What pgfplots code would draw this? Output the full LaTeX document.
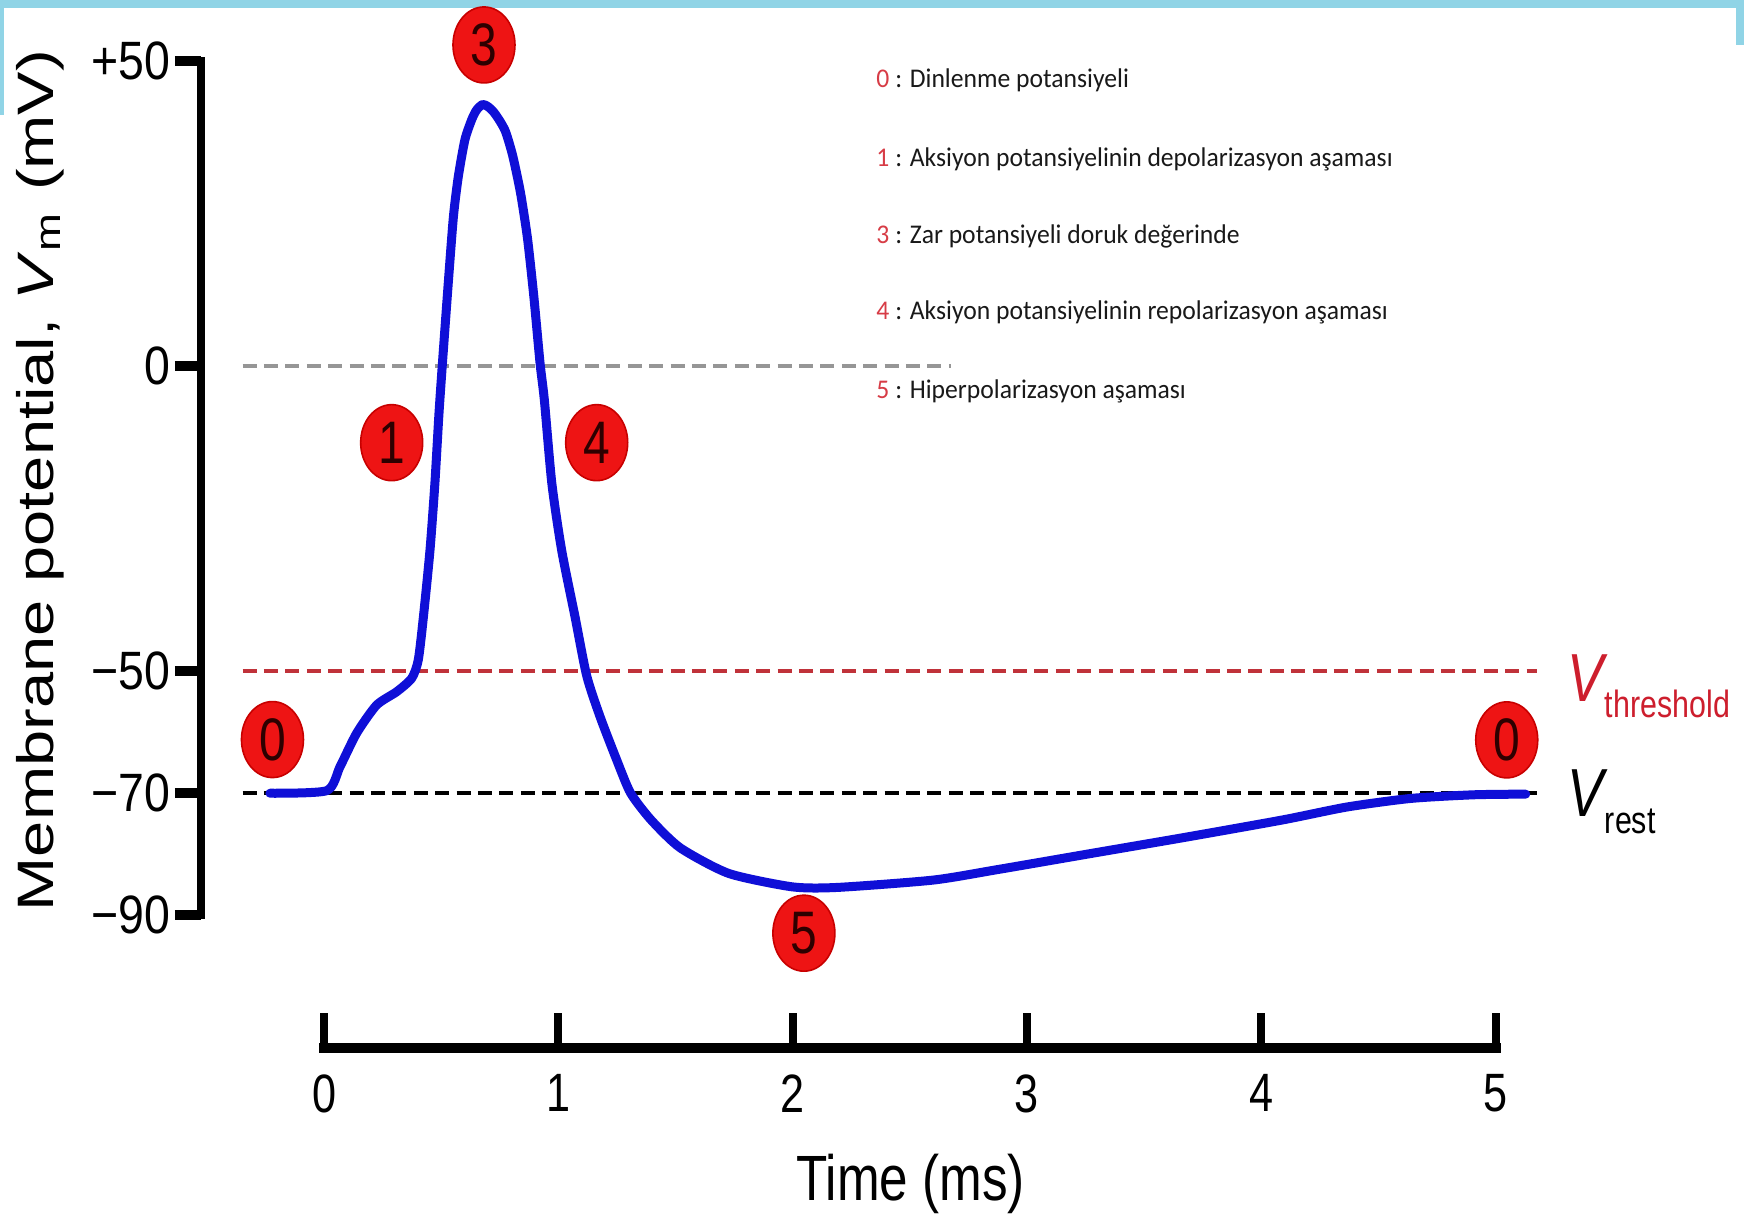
\documentclass[border=0pt]{standalone}
\usepackage{fontspec}
\setmainfont{Liberation Sans}[FakeStretch=0.8]
\newfontfamily\ylabfont{Liberation Sans}[FakeStretch=1.27]
\newfontfamily\tickfont{Liberation Sans}[FakeStretch=0.86]
\newfontfamily\legfont{Carlito}[FakeStretch=0.95]
\usepackage{pgfplots}
\pgfplotsset{compat=1.18}
\usetikzlibrary{shapes.geometric}
\definecolor{curveblue}{RGB}{15,15,215}
\definecolor{zerogray}{RGB}{150,150,150}
\definecolor{thred}{RGB}{192,50,58}
\definecolor{vred}{RGB}{205,30,45}
\definecolor{circred}{RGB}{238,20,20}
\definecolor{circedge}{RGB}{200,0,0}
\definecolor{numdark}{RGB}{45,0,0}
\definecolor{legred}{RGB}{215,60,70}
\definecolor{legtext}{RGB}{25,25,25}
\definecolor{bandcyan}{RGB}{144,212,230}

\pgfplotstableread{
t v
-0.231 -70.05
0.011 -69.63
0.068 -65.7
0.139 -60.2
0.224 -55.6
0.31 -53.4
0.374 -51.2
0.402 -48.2
0.424 -41.1
0.452 -30.2
0.473 -19.2
0.49 -8.0
0.505 0.4
0.530 13.6
0.552 24.5
0.573 31.1
0.601 37.1
0.630 40.4
0.651 42.0
0.677 42.9
0.701 42.5
0.725 41.6
0.750 40.2
0.775 38.4
0.805 34.5
0.838 28.5
0.868 21.0
0.895 11.5
0.922 0.4
0.940 -5.5
0.972 -19.2
1.014 -30.2
1.071 -41.1
1.121 -50.8
1.178 -57.5
1.249 -64.6
1.308 -70.0
1.395 -74.4
1.52 -79.0
1.727 -83.2
1.998 -85.4
2.189 -85.5
2.598 -84.3
2.87 -82.6
3.278 -79.9
3.687 -77.2
4.095 -74.4
4.367 -72.3
4.639 -70.9
4.911 -70.3
5.129 -70.2
}\aptable

\pgfplotstableread{
t v lab
-0.2203 -61.25 0
0.2885 -12.56 1
0.6825 52.66 3
1.1636 -12.56 4
2.048 -93.0 5
5.048 -61.3 0
}\circtable

\begin{document}
\begin{tikzpicture}
\useasboundingbox (0,0) rectangle (872pt,609.5pt);
\fill[white] (0,0) rectangle (872pt,609.5pt);
\fill[bandcyan] (0,605.5pt) rectangle (872pt,609.5pt);
\fill[bandcyan] (0,552pt) rectangle (2pt,609.5pt);
\fill[bandcyan] (868pt,587pt) rectangle (872pt,609.5pt);

\begin{axis}[
  at={(100.5pt,152.05pt)}, anchor=south west,
  x=117.14pt, y=3.049pt,
  xmin=-0.5254, xmax=5.5, ymin=-90, ymax=50,
  axis x line=none, axis y line=left,
  axis line style={line width=4pt, -, line cap=rect},
  ytick={-90,-70,-50,0,50},
  yticklabels={−90,−70,−50,0,+50},
  tick align=outside,
  major tick length=13pt,
  tick style={line width=5pt, black},
  yticklabel style={font=\tickfont\fontsize{27pt}{30pt}\selectfont, anchor=east, inner sep=0pt, xshift=-2pt},
  /pgf/number format/assume math mode=true,
  ylabel={\ylabfont\fontsize{25.6pt}{30pt}\selectfont Membrane potential, \textit{V}\textsubscript{m}\ \kern2pt(mV)},
  ylabel style={at={(axis description cs:-0.10466,0.5086)}, anchor=base, inner sep=0pt},
  clip=false,
]
\addplot[zerogray, line width=2.4pt, dash pattern=on 7pt off 3.7pt] coordinates {(-0.348,0) (2.676,0)};
\addplot[thred, line width=2.4pt, dash pattern=on 7pt off 3.7pt] coordinates {(-0.348,-50) (5.175,-50)};
\addplot[black, line width=2.4pt, dash pattern=on 7pt off 3.7pt] coordinates {(-0.348,-70) (5.175,-70)};
\addplot[curveblue, line width=4.5pt, line join=round, line cap=round, smooth, tension=0.4] table[x=t, y=v] {\aptable};
\addplot[draw=none, mark=none, nodes near coords, point meta=explicit symbolic,
  every node near coord/.style={anchor=center, ellipse, fill=circred, draw=circedge, line width=0.8pt,
    minimum width=31pt, minimum height=38pt, inner sep=0pt, text=numdark,
    font=\fontsize{30pt}{32pt}\selectfont}]
  table[x=t, y=v, meta=lab] {\circtable};

\node[anchor=base west, inner sep=0pt, text=vred] at (axis cs:5.305,-55.08)
  {\fontsize{34pt}{36pt}\selectfont\textit{V}\kern-1.5pt\raisebox{-8pt}{\fontsize{19pt}{22pt}\selectfont threshold}};
\node[anchor=base west, inner sep=0pt, text=black] at (axis cs:5.305,-73.91)
  {\fontsize{34pt}{36pt}\selectfont\textit{V}\kern-1.5pt\raisebox{-8.3pt}{\fontsize{19pt}{22pt}\selectfont rest}};

\begin{scope}[every node/.style={anchor=base west, inner sep=0pt, text=legtext, font=\legfont\fontsize{13.5pt}{16pt}\selectfont}]
\node at (axis cs:2.356,45.65) {\textcolor{legred}{0} : Dinlenme potansiyeli};
\node at (axis cs:2.356,32.7) {\textcolor{legred}{1} : Aksiyon potansiyelinin depolarizasyon aşaması};
\node at (axis cs:2.356,20.14) {\textcolor{legred}{3} : Zar potansiyeli doruk değerinde};
\node at (axis cs:2.356,7.56) {\textcolor{legred}{4} : Aksiyon potansiyelinin repolarizasyon aşaması};
\node at (axis cs:2.356,-5.28) {\textcolor{legred}{5} : Hiperpolarizasyon aşaması};
\end{scope}
\end{axis}

\begin{axis}[
  at={(162.05pt,85.5pt)}, anchor=south west,
  x=117.14pt, y=1pt,
  xmin=0, xmax=5, ymin=0, ymax=1,
  axis x line=bottom, axis y line=none,
  axis line style={line width=5.3pt, -, line cap=rect},
  xtick={0,1,2,3,4,5}, xticklabels={0,1,2,3,4,5},
  tick align=inside,
  major tick length=17.5pt,
  tick style={line width=4pt, black},
  xticklabel style={font=\fontsize{27pt}{30pt}\selectfont, anchor=north, inner sep=0pt, yshift=-13.2pt},
  /pgf/number format/assume math mode=true,
  xlabel={Time (ms)},
  xlabel style={at={(axis description cs:0.5008,0)}, anchor=base, inner sep=0pt, yshift=-76.5pt, font=\fontsize{32pt}{36pt}\selectfont},
  clip=false,
]
\addplot[draw=none] coordinates {(0,0) (5,0)};
\end{axis}
\end{tikzpicture}
\end{document}
